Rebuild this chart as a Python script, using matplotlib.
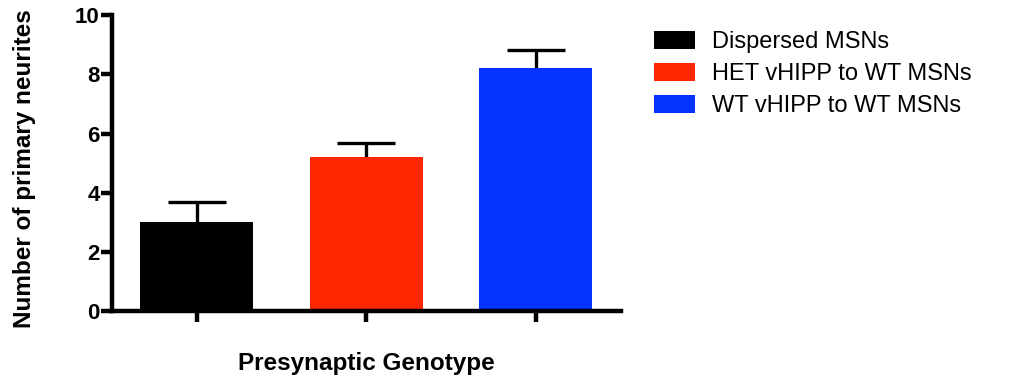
import numpy as np
import matplotlib.pyplot as plt
from matplotlib.patches import Patch

plt.rcParams['font.family'] = ['Liberation Sans', 'DejaVu Sans']

# values
groups = ['Dispersed MSNs', 'HET vHIPP to WT MSNs', 'WT vHIPP to WT MSNs']
means = np.array([3.0, 5.21, 8.22])
sem = np.array([0.69, 0.48, 0.61])
colors = ['#000000', '#FF2600', '#0433FF']

fig = plt.figure(figsize=(10.13, 3.75), dpi=100)
ax = fig.add_axes([0.1106, 0.1707, 0.502, 0.7885])

x = np.arange(len(groups))
ax.bar(x, means, width=0.665, color=colors, zorder=2)
# symmetric error bars drawn behind the bars, so only the upper half shows
ax.errorbar(x, means, yerr=sem, fmt='none', ecolor='black',
            elinewidth=2.4, capsize=21, capthick=2.4, zorder=1)

ax.set_xlim(-0.5, 2.5)
ax.set_ylim(0, 10)
ax.set_yticks([0, 2, 4, 6, 8, 10])
ax.set_xticks(x)
ax.set_xticklabels([])
for s in ['top', 'right']:
    ax.spines[s].set_visible(False)
for s in ['left', 'bottom']:
    ax.spines[s].set_linewidth(3.2)
ax.tick_params(axis='both', width=3.2, length=8, labelsize=16)
for lab in ax.get_yticklabels():
    lab.set_fontweight('bold')
ax.tick_params(axis='y', pad=1)

ax.set_ylabel('Number of primary neurites', fontsize=17.5, fontweight='bold')
ax.yaxis.set_label_coords(-0.15, 0.48)
ax.set_xlabel('Presynaptic Genotype', fontsize=17.5, fontweight='bold')
ax.xaxis.set_label_coords(0.5, -0.138)

handles = [Patch(facecolor=c, edgecolor='none') for c in colors]
fig.legend(handles, groups, loc='upper left', bbox_to_anchor=(0.646, 0.918),
           frameon=False, fontsize=17, handlelength=1.7, handleheight=0.8,
           handletextpad=0.76, labelspacing=0.42, borderaxespad=0, borderpad=0)

fig.savefig('out.png', dpi=100)
